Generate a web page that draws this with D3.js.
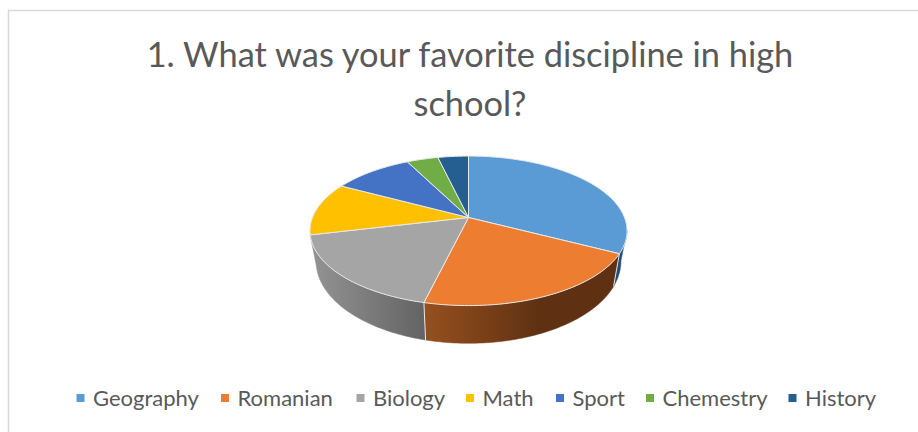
<!DOCTYPE html>
<html>
<head>
<meta charset="utf-8">
<title>Favorite discipline</title>
<script src="https://cdnjs.cloudflare.com/ajax/libs/d3/7.8.5/d3.min.js"></script>
<style>
    html, body { margin: 0; padding: 0; background: #fff; }
    svg { display: block; }
    text { font-family: Lato, sans-serif; fill: #595959; }
</style>
</head>
<body>
<script>
    var categories = ["Geography", "Romanian", "Biology", "Math", "Sport", "Chemestry", "History"];
    var shares = [32.6, 21.2, 17.5, 11.5, 9.7, 3.8, 3.7];
    var topColors = ["#5b9bd5", "#ed7d31", "#a5a5a5", "#ffc000", "#4472c4", "#70ad47", "#255e91"];
    var sideStart = ["#1f4e79", "#96501f", "#949494", "#997300", "#2f5597", "#43682b", "#163a5a"];
    var sideEnd = ["#1f4e79", "#5f3112", "#636363", "#997300", "#2f5597", "#43682b", "#163a5a"];
    var titleLines = ["1. What was your favorite discipline in high", "school?"];
    var legendX = [76.5, 221, 356.5, 466, 556, 646, 788.5];

    var width = 918, height = 432;
    var svg = d3.select("body").append("svg").attr("width", width).attr("height", height);

    // chart frame, only top and left show in the crop
    svg.append("path")
        .attr("d", "M8.5 432V10.5H918")
        .attr("fill", "none")
        .attr("stroke", "#d9d9d9")
        .attr("stroke-width", 1.5);

    svg.selectAll(".title")
        .data(titleLines)
        .enter().append("text")
        .attr("class", "title")
        .attr("x", 470)
        .attr("y", function (d, i) { return 67 + i * 49; })
        .attr("text-anchor", "middle")
        .style("font-size", "34.4px")
        .text(function (d) { return d; });

    // perspective of the tilted pie: the near side of the disc looks bigger
    var k = 0.178;
    var topPlane = { cx: 468.5, cy: 217.5, rx: 156, ry: 72.4 };
    var bottomPlane = { cx: 468.5, cy: 246.6, rx: 150, ry: 79.5 };

    function project(plane, t, r) {
        var x = Math.sin(t) * r, y = -Math.cos(t) * r;
        var s = 1 / (1 - k * y);
        return [plane.cx + plane.rx * x * s, plane.cy + plane.ry * y * s];
    }

    function sample(a0, a1) {
        var n = Math.max(2, Math.ceil((a1 - a0) / 0.02));
        return d3.range(n + 1).map(function (i) { return a0 + (a1 - a0) * i / n; });
    }

    var pie = d3.pie().sort(null).value(function (d) { return d; });
    var arcs = pie(shares);
    var line = d3.line();
    var defs = svg.append("defs");

    // side wall: only the part of each slice facing the viewer
    var wallFrom = 100 * Math.PI / 180, wallTo = arcs[2].endAngle;
    var walls = svg.append("g");
    arcs.forEach(function (a, i) {
        var a0 = Math.max(a.startAngle, wallFrom), a1 = Math.min(a.endAngle, wallTo);
        if (a1 <= a0) return;
        var angles = sample(a0, a1);
        var upper = angles.map(function (t) { return project(topPlane, t, 1); });
        var lower = angles.map(function (t) { return project(bottomPlane, t, 1); }).reverse();
        var xs = upper.concat(lower).map(function (p) { return p[0]; });
        var grad = defs.append("linearGradient")
            .attr("id", "wall" + i)
            .attr("gradientUnits", "userSpaceOnUse")
            .attr("x1", d3.min(xs)).attr("y1", 0)
            .attr("x2", i == 1 ? d3.min(xs) + 115 : d3.max(xs)).attr("y2", 0);
        grad.append("stop").attr("offset", 0).attr("stop-color", sideStart[i]);
        grad.append("stop").attr("offset", 1).attr("stop-color", sideEnd[i]);
        walls.append("path")
            .attr("d", line(upper.concat(lower)) + "Z")
            .attr("fill", "url(#wall" + i + ")")
            .attr("stroke", "url(#wall" + i + ")")
            .attr("stroke-width", 0.5);
        // light seam where two front slices meet
        if (a0 == a.startAngle) {
            walls.append("path")
                .attr("d", line([project(topPlane, a0, 1), project(bottomPlane, a0, 1)]))
                .attr("stroke", "#e6e6e6")
                .attr("stroke-width", 1);
        }
    });

    // top face
    svg.append("g").selectAll("path")
        .data(arcs)
        .enter().append("path")
        .attr("d", function (a) {
            var pts = sample(a.startAngle, a.endAngle).map(function (t) { return project(topPlane, t, 1); });
            return line([[topPlane.cx, topPlane.cy]].concat(pts)) + "Z";
        })
        .attr("fill", function (a, i) { return topColors[i]; })
        .attr("stroke", "#e9e9e9")
        .attr("stroke-width", 1)
        .attr("stroke-linejoin", "round");

    // legend
    var legend = svg.append("g").selectAll("g")
        .data(categories)
        .enter().append("g")
        .attr("transform", function (d, i) { return "translate(" + legendX[i] + ",394)"; });
    legend.append("rect")
        .attr("width", 8).attr("height", 8)
        .attr("fill", function (d, i) { return topColors[i]; });
    legend.append("text")
        .attr("x", 16.5).attr("y", 11.5)
        .style("font-size", "22px")
        .text(function (d) { return d; });
</script>
</body>
</html>
